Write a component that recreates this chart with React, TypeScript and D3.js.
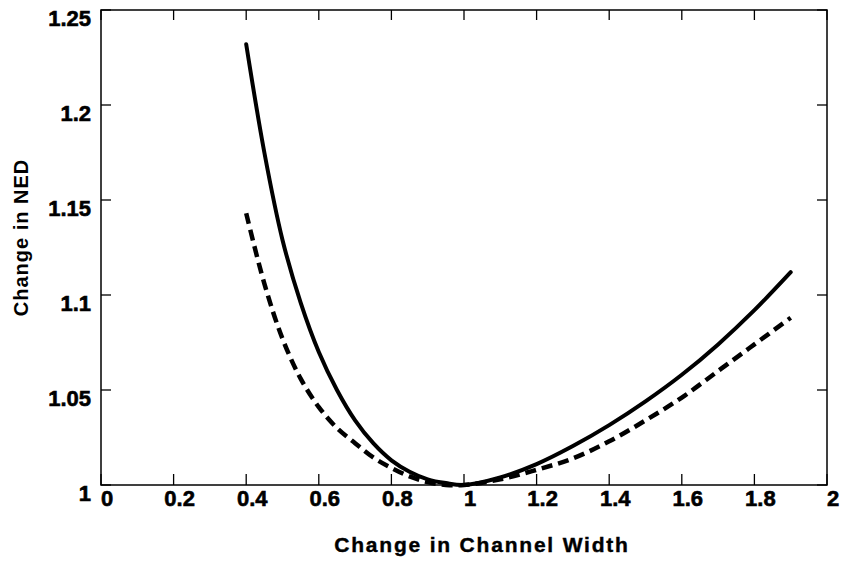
import React from "react";
import * as d3 from "d3";

const widthChange = [0.4, 0.45, 0.5, 0.55, 0.6, 0.65, 0.7, 0.75, 0.8, 0.85, 0.9, 0.95, 1.0, 1.1, 1.2, 1.3, 1.4, 1.5, 1.6, 1.7, 1.8, 1.9];
const nedSolid = [1.232, 1.175, 1.129, 1.096, 1.070, 1.050, 1.034, 1.022, 1.013, 1.007, 1.003, 1.001, 1.0, 1.004, 1.011, 1.0205, 1.0315, 1.044, 1.058, 1.074, 1.092, 1.112];
const nedDashed = [1.143, 1.106, 1.077, 1.056, 1.041, 1.030, 1.022, 1.0145, 1.009, 1.0045, 1.0015, 1.0, 1.0, 1.003, 1.008, 1.014, 1.023, 1.034, 1.046, 1.060, 1.074, 1.088];
const xTicks = [0, 0.2, 0.4, 0.6, 0.8, 1, 1.2, 1.4, 1.6, 1.8, 2];
const yTicks = [1, 1.05, 1.1, 1.15, 1.2, 1.25];
const xTickLabels = ["0", "0.2", "0.4", "0.6", "0.8", "1", "1.2", "1.4", "1.6", "1.8", "2"];
const yTickLabels = ["1", "1.05", "1.1", "1.15", "1.2", "1.25"];

const W = 842, H = 562;
const L = 101, R = 827, T = 10, B = 485;
const FONT = "'Liberation Sans', Arial, Helvetica, sans-serif";

export default function App() {
  const x = d3.scaleLinear().domain([0, 2]).range([L, R]);
  const y = d3.scaleLinear().domain([1, 1.25]).range([B, T]);
  const line = d3.line<number>()
    .x((_, i) => x(widthChange[i]))
    .y((d) => y(d))
    .curve(d3.curveCatmullRom);
  return (
    <svg width={W} height={H} style={{ position: "absolute", left: 0, top: 0, background: "#fff" }}>
      <rect x={0} y={0} width={W} height={H} fill="#fff" />
      <rect x={L} y={T} width={R - L} height={B - T} fill="none" stroke="#000" strokeWidth={1.5} />
      {xTicks.map((t) => (
        <g key={"xt" + t}>
          <line x1={x(t)} x2={x(t)} y1={B} y2={B - 11} stroke="#000" strokeWidth={1.3} />
          <line x1={x(t)} x2={x(t)} y1={T} y2={T + 10} stroke="#000" strokeWidth={1.3} />
        </g>
      ))}
      {yTicks.map((t) => (
        <g key={"yt" + t}>
          <line x1={L} x2={L + 10} y1={y(t)} y2={y(t)} stroke="#000" strokeWidth={1.3} />
          <line x1={R} x2={R - 10} y1={y(t)} y2={y(t)} stroke="#000" strokeWidth={1.3} />
        </g>
      ))}
      {xTicks.map((t, i) => (
        <text key={"xl" + t} x={x(t) + 6} y={506} textAnchor="middle" fontFamily={FONT} fontWeight="bold" fontSize={22} stroke="#000" strokeWidth={0.6}>
          {xTickLabels[i]}
        </text>
      ))}
      {yTicks.map((t, i) => (
        <text key={"yl" + t} x={91} y={y(t) + 16} textAnchor="end" fontFamily={FONT} fontWeight="bold" fontSize={22} stroke="#000" strokeWidth={0.6}>
          {yTickLabels[i]}
        </text>
      ))}
      <path d={line(nedSolid) || ""} fill="none" stroke="#000" strokeWidth={4} strokeLinecap="round" />
      <path d={line(nedDashed) || ""} fill="none" stroke="#000" strokeWidth={4.5} strokeDasharray="11,6" />
      <text x={482} y={552} textAnchor="middle" fontFamily={FONT} fontWeight="bold" fontSize={21} letterSpacing={1.8} stroke="#000" strokeWidth={0.4}>
        Change in Channel Width
      </text>
      <text transform={`translate(28,${237.5}) rotate(-90)`} textAnchor="middle" fontFamily={FONT} fontWeight="bold" fontSize={20} letterSpacing={1}>
        Change in NED
      </text>
    </svg>
  );
}
